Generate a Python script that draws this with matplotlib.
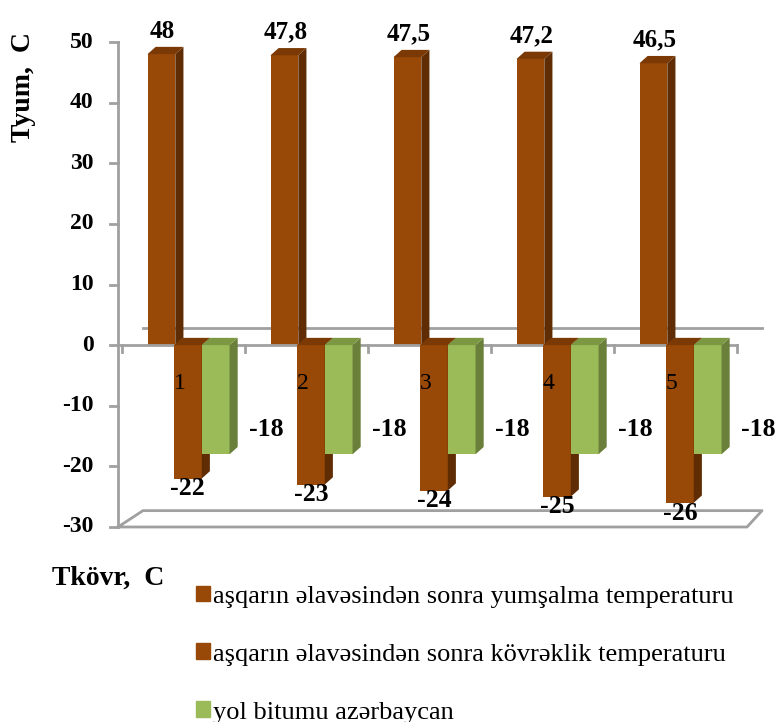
import numpy as np
import matplotlib.pyplot as plt
from matplotlib.patches import Polygon, Patch

# data
samples = [1, 2, 3, 4, 5]
t_soft = [48, 47.8, 47.5, 47.2, 46.5]        # aşqarın əlavəsindən sonra yumşalma temperaturu
t_brittle = [-22, -23, -24, -25, -26]        # aşqarın əlavəsindən sonra kövrəklik temperaturu
t_bitumen = [-18, -18, -18, -18, -18]        # yol bitumu azərbaycan
soft_labels = ["48", "47,8", "47,5", "47,2", "46,5"]
y_ticks = [-30, -20, -10, 0, 10, 20, 30, 40, 50]

series_names = ["aşqarın əlavəsindən sonra yumşalma temperaturu",
                "aşqarın əlavəsindən sonra kövrəklik temperaturu",
                "yol bitumu azərbaycan"]

brown = "#984807"
brown_side = "#5f2c03"
brown_top = "#7a3905"
green = "#9bbb59"
green_side = "#6a7f3a"
green_top = "#7d9843"
grey = "#a0a0a0"

plt.rcParams['font.family'] = ['Liberation Serif', 'DejaVu Serif']

fig = plt.figure(figsize=(7.78, 7.22), dpi=100)
ax = fig.add_axes([118/778, 1-527/722, 615/778, 485/722])
ax.set_xlim(0.5, 5.5)
ax.set_ylim(-30, 50)
ax.axis('off')

bw = 0.226   # bar width
ddx = 0.066  # 3d depth in x
ddy = 1.2    # 3d depth in y


def bar3d(xl, y0, y1, front, side, top, z=3):
    ax.bar(xl, y1 - y0, width=bw, bottom=y0, align='edge', color=front,
           edgecolor='none', zorder=z, clip_on=False)
    hi = max(y0, y1)
    lo = min(y0, y1)
    ax.add_patch(Polygon([(xl + bw, lo), (xl + bw + ddx, lo + ddy),
                          (xl + bw + ddx, hi + ddy), (xl + bw, hi)],
                         closed=True, color=side, lw=0, zorder=z, clip_on=False))
    ax.add_patch(Polygon([(xl, hi), (xl + ddx, hi + ddy),
                          (xl + bw + ddx, hi + ddy), (xl + bw, hi)],
                         closed=True, color=top, lw=0, zorder=z, clip_on=False))


# walls / floor
ax.plot([0.5, 5.614, 5.736, 0.703, 0.5],
        [-30, -30, -27.3, -27.3, -30], color=grey, lw=2, zorder=1, clip_on=False)
ax.plot([0.703, 5.736], [2.9, 2.9], color=grey, lw=2, zorder=1, clip_on=False)
ax.plot([0.5, 0.5], [-30, 50], color=grey, lw=2, zorder=1, clip_on=False)
for v in y_ticks:
    ax.plot([0.435, 0.5], [v, v], color=grey, lw=2, zorder=1, clip_on=False)
    ax.text(0.3, v, f"{v}", ha='right', va='center', fontsize=17, fontweight='bold')

x = np.array(samples, dtype=float)
for i in range(len(samples)):
    bar3d(x[i] - 0.26, 0, t_soft[i], brown, brown_side, brown_top, z=2)

# front zero line with ticks
ax.plot([0.5, 5.53], [0, 0], color=grey, lw=2, zorder=2.5, clip_on=False)
for b in np.arange(0.5, 5.6, 1.0):
    ax.plot([b + 0.03, b + 0.03], [0, -1.2], color=grey, lw=2, zorder=2.5, clip_on=False)

for i in range(len(samples)):
    bar3d(x[i] - 0.045, 0, t_brittle[i], brown, brown_side, brown_top, z=3)
    bar3d(x[i] + 0.181, 0, t_bitumen[i], green, green_side, green_top, z=4)

for i in range(len(samples)):
    ax.text(x[i] - 0.26 + bw/2 + 0.01, t_soft[i] + 3.8, soft_labels[i],
            ha='center', va='center', fontsize=18, fontweight='bold', zorder=6)
    ax.text(x[i] - 0.045 + bw/2, t_brittle[i] - 1.7, f"{t_brittle[i]}",
            ha='center', va='center', fontsize=18.5, fontweight='bold', zorder=6)
    ax.text(x[i] + 0.703, t_bitumen[i] + 4.0, f"{t_bitumen[i]}",
            ha='center', va='center', fontsize=18.5, fontweight='bold', zorder=6)
    ax.text(x[i] + 0.0, -6.3, f"{samples[i]}", ha='center', va='center',
            fontsize=17, zorder=6)

fig.text(24/778, 1-87/722, "Tyum,  C", rotation=90, ha='center', va='center',
         fontsize=20, fontweight='bold')
fig.text(108/778, 1-578/722, "Tkövr,  C", ha='center', va='center',
         fontsize=20, fontweight='bold')

handles = [Patch(color=brown), Patch(color=brown), Patch(color=green)]
fig.legend(handles, series_names, loc='upper left', bbox_to_anchor=(185/778, 1-575/722),
           frameon=False, fontsize=19, handlelength=0.55, handleheight=0.55,
           handletextpad=0.12, labelspacing=1.35, borderaxespad=0)

plt.savefig("out.png", dpi=100)
